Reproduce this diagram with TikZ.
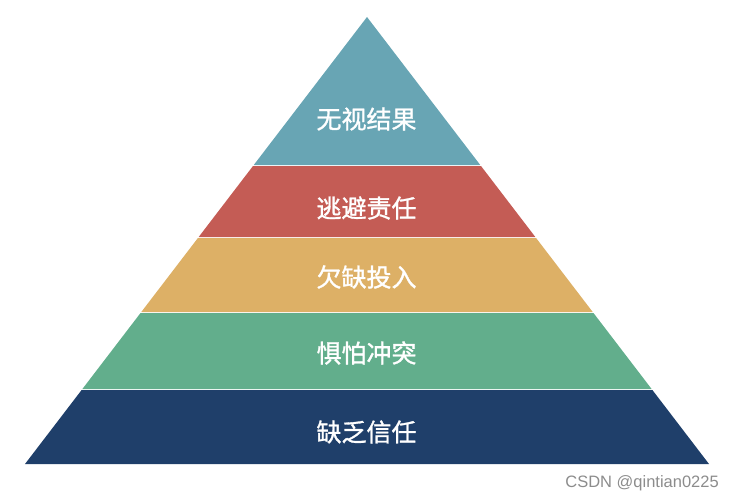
\documentclass[tikz,border=0pt]{standalone}
\usepackage{fontspec}
\setmainfont{Liberation Sans}
\newfontfamily\cjk[FakeBold=1.2]{Noto Sans CJK SC}
\definecolor{cteal}{HTML}{68A5B4}
\definecolor{cred}{HTML}{C45C55}
\definecolor{cyellow}{HTML}{DDB066}
\definecolor{cgreen}{HTML}{62AE8C}
\definecolor{cnavy}{HTML}{1F3F6A}
\definecolor{cmark}{HTML}{8C8C8C}
\begin{document}
\begin{tikzpicture}[x=1pt,y=-1pt,
  lbl/.style={text=white,font=\cjk\fontsize{25}{27}\selectfont,inner sep=0pt},
  wmark/.style={text=cmark,font=\fontsize{16.5}{18}\selectfont,inner sep=0pt,anchor=east}]
\useasboundingbox (0,0) rectangle (735,500);
% apex (367,17), base y=464 from 25 to 709; slope 0.7651
\newcommand\bandfill[3]{%
  \fill[#1] ({367-(#2-17)*0.7651},#2) -- ({367+(#2-17)*0.7651},#2) -- ({367+(#3-17)*0.7651},#3) -- ({367-(#3-17)*0.7651},#3) -- cycle;}
\bandfill{cteal}{17}{165}
\bandfill{cred}{166}{237}
\bandfill{cyellow}{238}{312}
\bandfill{cgreen}{313}{389}
\bandfill{cnavy}{390}{464}
\node[lbl] (l1) at (366.5,119) {无视结果};
\node[lbl] (l2) at (366.5,208) {逃避责任};
\node[lbl] (l3) at (366.5,277) {欠缺投入};
\node[lbl] (l4) at (366.5,353) {惧怕冲突};
\node[lbl] (l5) at (366.5,432) {缺乏信任};
\node[wmark] (wm) at (719,483) {CSDN @qintian0225};
\end{tikzpicture}
\end{document}
